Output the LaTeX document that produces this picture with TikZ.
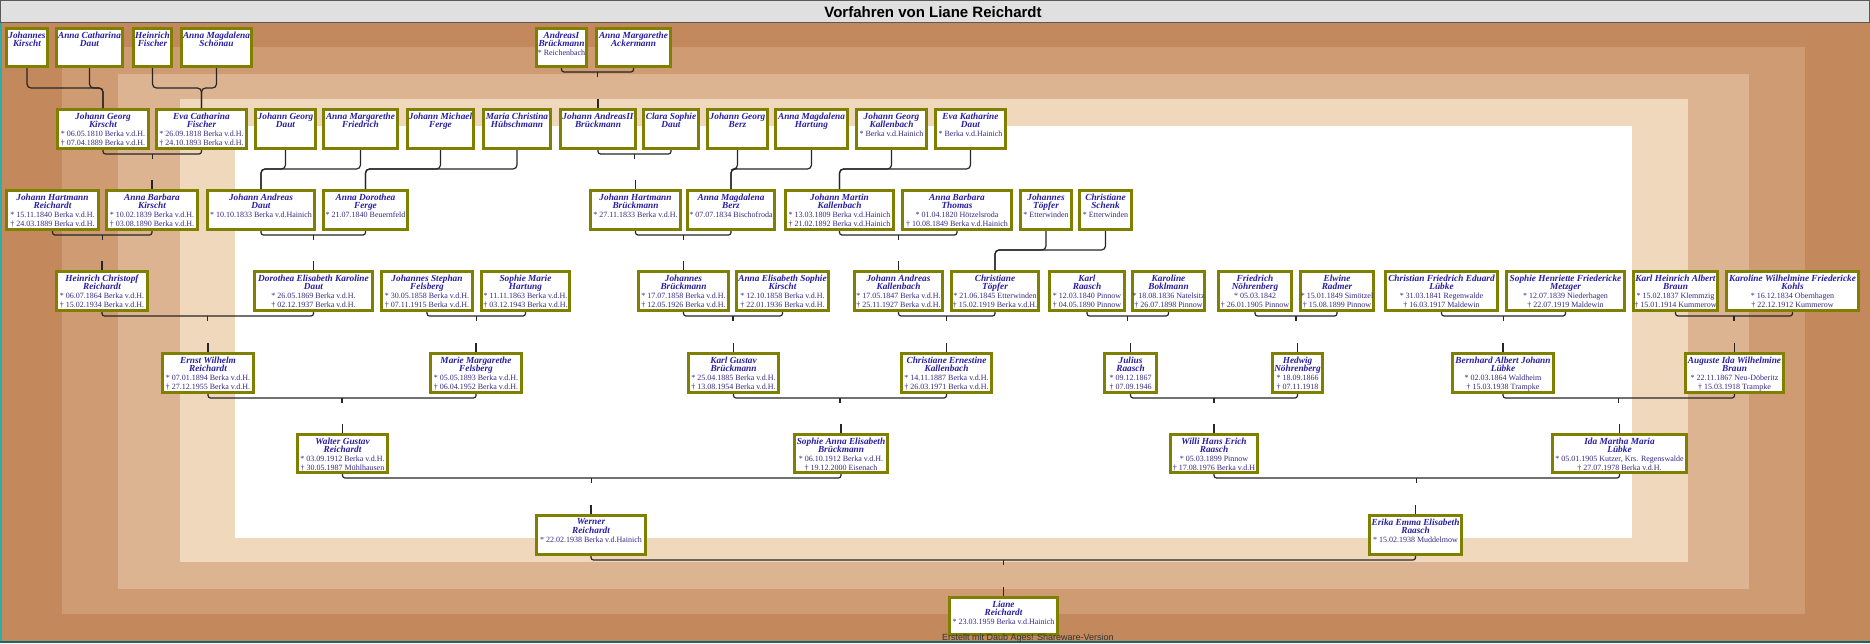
\documentclass[tikz,border=0pt]{standalone}
\usepackage{fontspec}
\setmainfont{Liberation Serif}
\newfontfamily\sansf{Liberation Sans}
\usetikzlibrary{calc}
\definecolor{bandA}{RGB}{195,136,92}
\definecolor{bandB}{RGB}{206,155,114}
\definecolor{bandC}{RGB}{221,180,146}
\definecolor{bandD}{RGB}{239,216,187}
\definecolor{boxolive}{RGB}{128,128,0}
\definecolor{nameblue}{RGB}{40,30,160}
\definecolor{dateblue}{RGB}{55,40,130}
\definecolor{titlegray}{RGB}{224,224,224}
\definecolor{edgeteal}{RGB}{40,175,170}
\newcommand\nmf{\fontsize{9.3}{8.7}\selectfont\bfseries\itshape\color{nameblue}}
\newcommand\pers[6]{%
  \node[pbox,minimum width={(#4-#2-3)*1pt},minimum height={(#5-#3-3)*1pt}] (#1) at ({(#2+#4)/2},{(#3+#5)/2}) {};
  \node[ptext,anchor=north] (#1t) at ([yshift=-4.5pt]#1.north) {#6};}
\newcommand\famlink[3]{%
  \draw[conn,rounded corners=2.5pt] (#1.south) -- ++(0,4) -| (#2.south);
  \draw[conn] ($(#1.south)!0.5!(#2.south)+(0,4)$) -- ++(0,4.5);
  \draw[conn] (#3.north) -- ++(0,-9);}
\newcommand\mrglink[4]{%
  \path (0,#4) coordinate (ym);
  \draw[conn,rounded corners=4pt] (#1.south) |- (#3.north |- ym) -- (#3.north);
  \draw[conn,rounded corners=4pt] (#2.south) |- (#3.north |- ym) -- (#3.north);}
\begin{document}
\begin{tikzpicture}[x=1pt,y=-1pt,
  pbox/.style={draw=boxolive,line width=3pt,fill=white,inner sep=0pt},
  ptext/.style={inner sep=0pt,align=center,text=dateblue,font=\fontsize{8}{8.7}\selectfont},
  conn/.style={draw=black!85,line width=1.2pt}]
\lineskiplimit=-5pt\relax
\useasboundingbox (0,0) rectangle (1870,643);
% background bands
\fill[bandA] (0,23) rectangle (1870,643);
\fill[bandB] (62,47) rectangle (1805,614);
\fill[bandC] (118,74) rectangle (1749,589);
\fill[bandD] (180,99) rectangle (1688,562);
\fill[white] (235,126) rectangle (1632,538);
\fill[edgeteal] (0,23) rectangle (2,643);
\fill[edgeteal!60!black] (0,640.5) rectangle (1870,643);
% title bar
\draw[fill=titlegray,draw=black!65,line width=1pt] (0.5,0.5) rectangle (1869.5,22.5);
\node[font=\sansf\bfseries\fontsize{15}{18}\selectfont,anchor=base] (title) at (933,17.5) {Vorfahren von Liane Reichardt};
% row A
\pers{a1}{5}{27}{49}{68}{\nmf Johannes\\\nmf Kirscht}
\pers{a2}{55}{27}{124}{68}{\nmf Anna Catharina\\\nmf Daut}
\pers{a3}{132}{27}{173}{68}{\nmf Heinrich\\\nmf Fischer}
\pers{a4}{180}{27}{253}{68}{\nmf Anna Magdalena\\\nmf Schönau}
\pers{a5}{535}{27}{588}{68}{\nmf AndreasI\\\nmf Brückmann\\* Reichenbach}
\pers{a6}{595}{27}{672}{68}{\nmf Anna Margarethe\\\nmf Ackermann}
% row B
\pers{b1}{56}{108}{150}{150}{\nmf Johann Georg\\\nmf Kirscht\\* 06.05.1810 Berka v.d.H.\\† 07.04.1889 Berka v.d.H.}
\pers{b2}{155}{108}{248}{150}{\nmf Eva Catharina\\\nmf Fischer\\* 26.09.1818 Berka v.d.H.\\† 24.10.1893 Berka v.d.H.}
\pers{b3}{254}{108}{317}{150}{\nmf Johann Georg\\\nmf Daut}
\pers{b4}{322}{108}{399}{150}{\nmf Anna Margarethe\\\nmf Friedrich}
\pers{b5}{406}{108}{475}{150}{\nmf Johann Michael\\\nmf Ferge}
\pers{b6}{482}{108}{552}{150}{\nmf Maria Christina\\\nmf Hübschmann}
\pers{b7}{559}{108}{637}{150}{\nmf Johann AndreasII\\\nmf Brückmann}
\pers{b8}{642}{108}{700}{150}{\nmf Clara Sophie\\\nmf Daut}
\pers{b9}{706}{108}{769}{150}{\nmf Johann Georg\\\nmf Berz}
\pers{b10}{774}{108}{849}{150}{\nmf Anna Magdalena\\\nmf Hartung}
\pers{b11}{855}{108}{928}{150}{\nmf Johann Georg\\\nmf Kallenbach\\* Berka v.d.Hainich}
\pers{b12}{934}{108}{1007}{150}{\nmf Eva Katharine\\\nmf Daut\\* Berka v.d.Hainich}
% row C
\pers{c1}{5}{189}{100}{231}{\nmf Johann Hartmann\\\nmf Reichardt\\* 15.11.1840 Berka v.d.H.\\† 24.03.1889 Berka v.d.H.}
\pers{c2}{105}{189}{199}{231}{\nmf Anna Barbara\\\nmf Kirscht\\* 10.02.1839 Berka v.d.H.\\† 03.08.1890 Berka v.d.H.}
\pers{c3}{206}{189}{316}{231}{\nmf Johann Andreas\\\nmf Daut\\* 10.10.1833 Berka v.d.Hainich}
\pers{c4}{322}{189}{409}{231}{\nmf Anna Dorothea\\\nmf Ferge\\* 21.07.1840 Beuernfeld}
\pers{c5}{589}{189}{682}{231}{\nmf Johann Hartmann\\\nmf Brückmann\\* 27.11.1833 Berka v.d.H.}
\pers{c6}{686}{189}{776}{231}{\nmf Anna Magdalena\\\nmf Berz\\* 07.07.1834 Bischofroda}
\pers{c7}{784}{189}{895}{231}{\nmf Johann Martin\\\nmf Kallenbach\\* 13.03.1809 Berka v.d.Hainich\\† 21.02.1892 Berka v.d.Hainich}
\pers{c8}{901}{189}{1013}{231}{\nmf Anna Barbara\\\nmf Thomas\\* 01.04.1820 Hötzelsroda\\† 10.08.1849 Berka v.d.Hainich}
\pers{c9}{1019}{189}{1073}{231}{\nmf Johannes\\\nmf Töpfer\\* Etterwinden}
\pers{c10}{1078}{189}{1133}{231}{\nmf Christiane\\\nmf Schenk\\* Etterwinden}
% row D
\pers{d1}{55}{270}{149}{312}{\nmf Heinrich Christopf\\\nmf Reichardt\\* 06.07.1864 Berka v.d.H.\\† 15.02.1934 Berka v.d.H.}
\pers{d2}{253}{270}{374}{312}{\nmf Dorothea Elisabeth Karoline\\\nmf Daut\\* 26.05.1869 Berka v.d.H.\\† 02.12.1937 Berka v.d.H.}
\pers{d3}{380}{270}{474}{312}{\nmf Johannes Stephan\\\nmf Felsberg\\* 30.05.1858 Berka v.d.H.\\† 07.11.1915 Berka v.d.H.}
\pers{d4}{480}{270}{571}{312}{\nmf Sophie Marie\\\nmf Hartung\\* 11.11.1863 Berka v.d.H.\\† 03.12.1943 Berka v.d.H.}
\pers{d5}{637}{270}{730}{312}{\nmf Johannes\\\nmf Brückmann\\* 17.07.1858 Berka v.d.H.\\† 12.05.1926 Berka v.d.H.}
\pers{d6}{735}{270}{830}{312}{\nmf Anna Elisabeth Sophie\\\nmf Kirscht\\* 12.10.1858 Berka v.d.H.\\† 22.01.1936 Berka v.d.H.}
\pers{d7}{853}{270}{944}{312}{\nmf Johann Andreas\\\nmf Kallenbach\\* 17.05.1847 Berka v.d.H.\\† 25.11.1927 Berka v.d.H.}
\pers{d8}{950}{270}{1040}{312}{\nmf Christiane\\\nmf Töpfer\\* 21.06.1845 Etterwinden\\† 15.02.1919 Berka v.d.H.}
\pers{d9}{1048}{270}{1126}{312}{\nmf Karl\\\nmf Raasch\\* 12.03.1840 Pinnow\\† 04.05.1890 Pinnow}
\pers{d10}{1131}{270}{1206}{312}{\nmf Karoline\\\nmf Boklmann\\* 18.08.1836 Natelsitz\\† 26.07.1898 Pinnow}
\pers{d11}{1217}{270}{1293}{312}{\nmf Friedrich\\\nmf Nöhrenberg\\* 05.03.1842\\† 26.01.1905 Pinnow}
\pers{d12}{1299}{270}{1375}{312}{\nmf Elwine\\\nmf Radmer\\* 15.01.1849 Simötzel\\† 15.08.1899 Pinnow}
\pers{d13}{1384}{270}{1499}{312}{\nmf Christian Friedrich Eduard\\\nmf Lübke\\* 31.03.1841 Regenwalde\\† 16.03.1917 Maldewin}
\pers{d14}{1505}{270}{1626}{312}{\nmf Sophie Henriette Friedericke\\\nmf Metzger\\* 12.07.1839 Niederhagen\\† 22.07.1919 Maldewin}
\pers{d15}{1632}{270}{1719}{312}{\nmf Karl Heinrich Albert\\\nmf Braun\\* 15.02.1837 Klemmzig\\† 15.01.1914 Kummerow}
\pers{d16}{1725}{270}{1860}{312}{\nmf Karoline Wilhelmine Friedericke\\\nmf Kohls\\* 16.12.1834 Obernhagen\\† 22.12.1912 Kummerow}
% row E
\pers{e1}{161}{352}{255}{394}{\nmf Ernst Wilhelm\\\nmf Reichardt\\* 07.01.1894 Berka v.d.H.\\† 27.12.1955 Berka v.d.H.}
\pers{e2}{429}{352}{523}{394}{\nmf Marie Margarethe\\\nmf Felsberg\\* 05.05.1893 Berka v.d.H.\\† 06.04.1952 Berka v.d.H.}
\pers{e3}{687}{352}{780}{394}{\nmf Karl Gustav\\\nmf Brückmann\\* 25.04.1885 Berka v.d.H.\\† 13.08.1954 Berka v.d.H.}
\pers{e4}{900}{352}{993}{394}{\nmf Christiane Ernestine\\\nmf Kallenbach\\* 14.11.1887 Berka v.d.H.\\† 26.03.1971 Berka v.d.H.}
\pers{e5}{1103}{352}{1158}{394}{\nmf Julius\\\nmf Raasch\\* 09.12.1867\\† 07.09.1946}
\pers{e6}{1271}{352}{1324}{394}{\nmf Hedwig\\\nmf Nöhrenberg\\* 18.09.1866\\† 07.11.1918}
\pers{e7}{1451}{352}{1555}{394}{\nmf Bernhard Albert Johann\\\nmf Lübke\\* 02.03.1864 Waldheim\\† 15.03.1938 Trampke}
\pers{e8}{1684}{352}{1785}{394}{\nmf Auguste Ida Wilhelmine\\\nmf Braun\\* 22.11.1867 Neu-Döberitz\\† 15.03.1918 Trampke}
% row F
\pers{f1}{296}{433}{389}{474}{\nmf Walter Gustav\\\nmf Reichardt\\* 03.09.1912 Berka v.d.H.\\† 30.05.1987 Mühlhausen}
\pers{f2}{793}{433}{889}{474}{\nmf Sophie Anna Elisabeth\\\nmf Brückmann\\* 06.10.1912 Berka v.d.H.\\† 19.12.2000 Eisenach}
\pers{f3}{1169}{433}{1259}{474}{\nmf Willi Hans Erich\\\nmf Raasch\\* 05.03.1899 Pinnow\\† 17.08.1976 Berka v.d.H}
\pers{f4}{1551}{433}{1688}{474}{\nmf Ida Martha Maria\\\nmf Lübke\\* 05.01.1905 Kutzer, Krs. Regenswalde\\† 27.07.1978 Berka v.d.H.}
% row G
\pers{g1}{535}{514}{647}{556}{\nmf Werner\\\nmf Reichardt\\* 22.02.1938 Berka v.d.Hainich}
\pers{g2}{1368}{514}{1463}{556}{\nmf Erika Emma Elisabeth\\\nmf Raasch\\* 15.02.1938 Muddelmow}
% row H
\pers{h1}{948}{596}{1059}{636}{\nmf Liane\\\nmf Reichardt\\* 23.03.1959 Berka v.d.Hainich}
% connectors
\mrglink{a1}{a2}{b1}{88}
\mrglink{a3}{a4}{b2}{88}
\famlink{a5}{a6}{b7}
\famlink{b1}{b2}{c2}
\mrglink{b3}{b4}{c3}{169}
\mrglink{b5}{b6}{c4}{169}
\famlink{b7}{b8}{c5}
\mrglink{b9}{b10}{c6}{169}
\mrglink{b11}{b12}{c7}{169}
\famlink{c1}{c2}{d1}
\famlink{c3}{c4}{d2}
\famlink{c5}{c6}{d5}
\famlink{c7}{c8}{d7}
\mrglink{c9}{c10}{d8}{250}
\famlink{d1}{d2}{e1}
\famlink{d3}{d4}{e2}
\famlink{d5}{d6}{e3}
\famlink{d7}{d8}{e4}
\famlink{d9}{d10}{e5}
\famlink{d11}{d12}{e6}
\famlink{d13}{d14}{e7}
\famlink{d15}{d16}{e8}
\famlink{e1}{e2}{f1}
\famlink{e3}{e4}{f2}
\famlink{e5}{e6}{f3}
\famlink{e7}{e8}{f4}
\famlink{f1}{f2}{g1}
\famlink{f3}{f4}{g2}
\famlink{g1}{g2}{h1}
% footer
\node[font=\sansf\fontsize{9}{10}\selectfont,text=black!80,anchor=west,inner sep=0pt] (foot) at (942,638.5) {Erstellt mit Daub Ages! Shareware-Version};
\end{tikzpicture}
\end{document}
